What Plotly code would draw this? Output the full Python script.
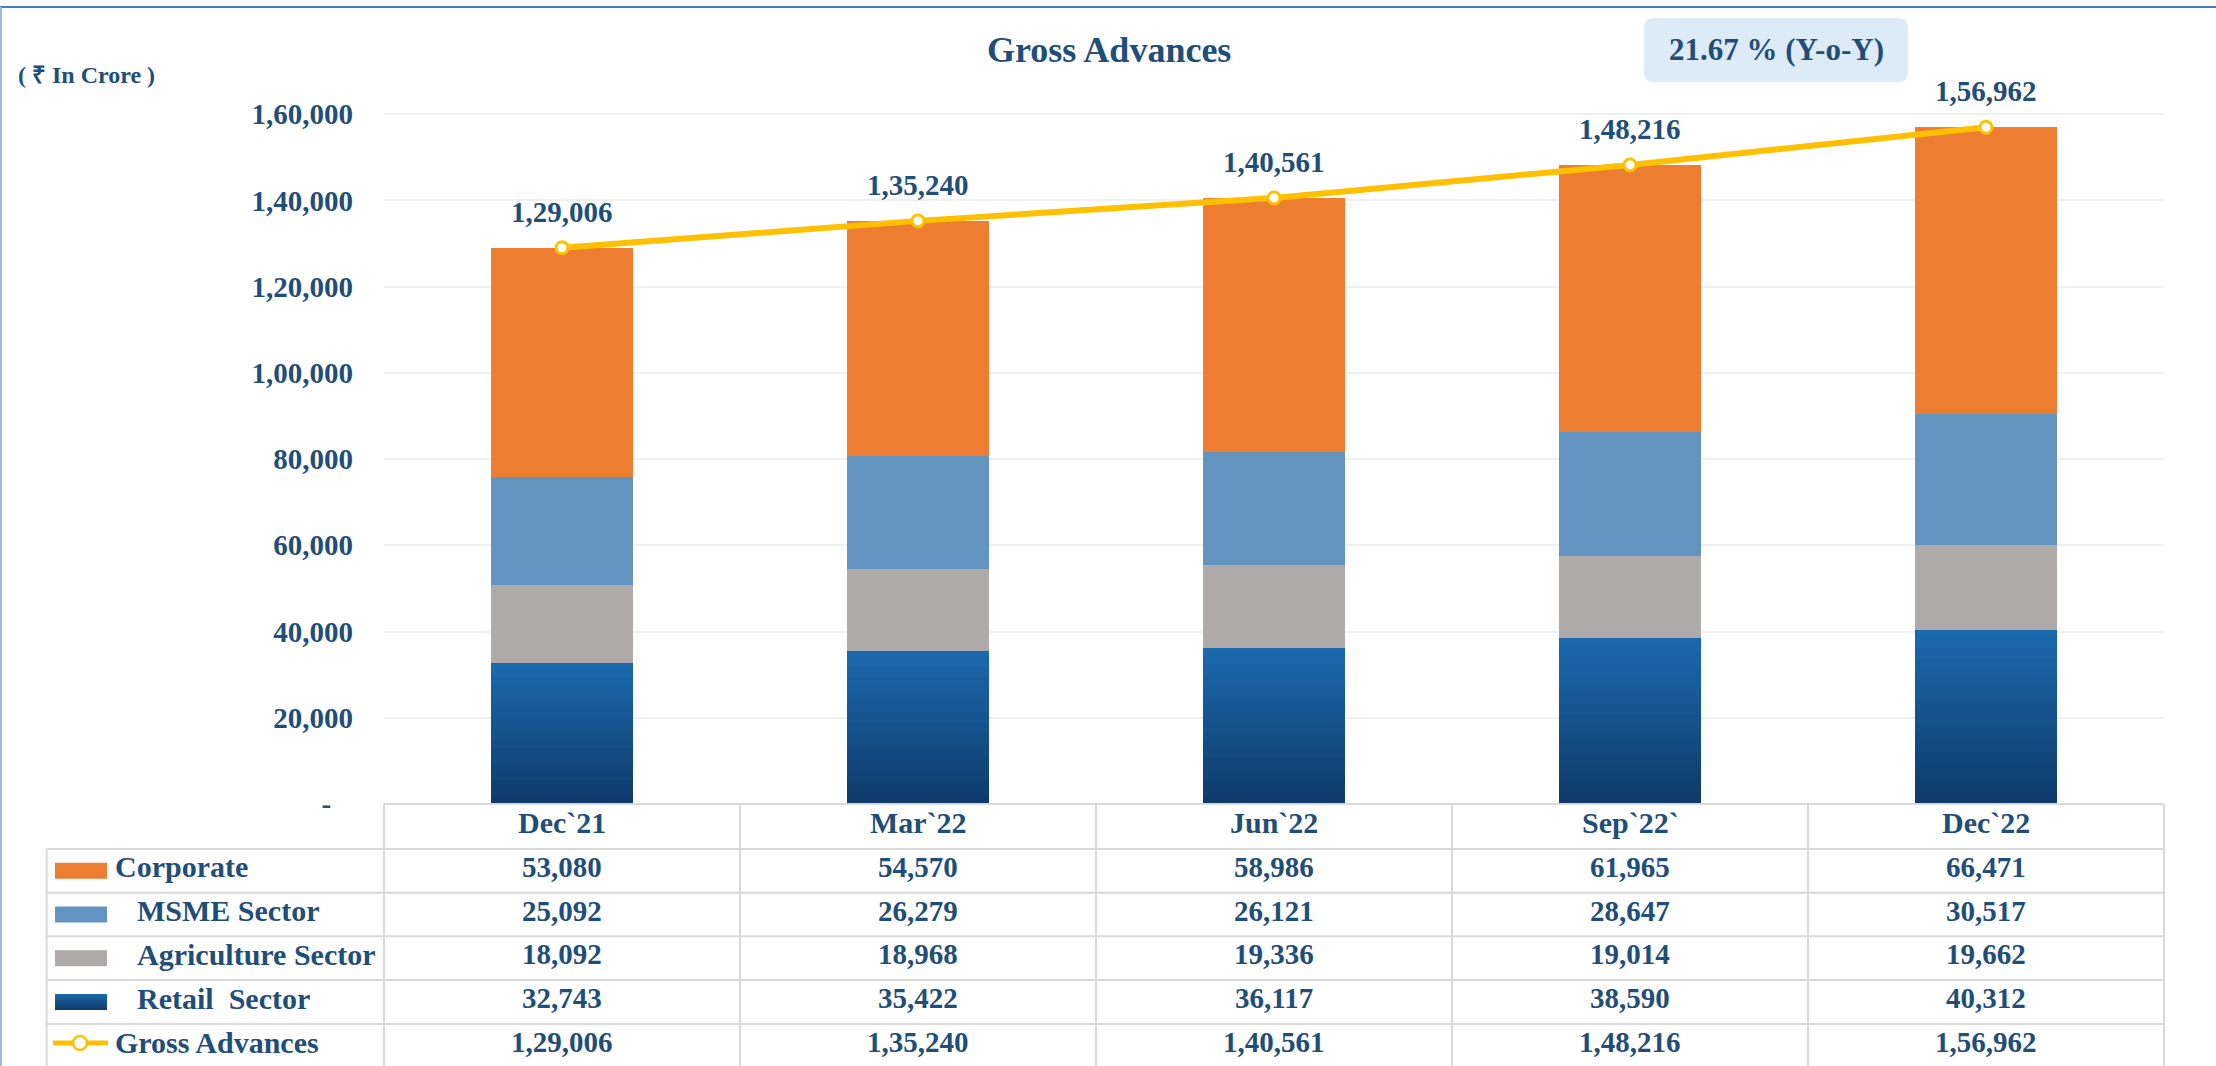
import plotly.graph_objects as go

# ---------------- data ----------------
categories = ["Dec`21", "Mar`22", "Jun`22", "Sep`22`", "Dec`22"]
corporate = [53080, 54570, 58986, 61965, 66471]
msme = [25092, 26279, 26121, 28647, 30517]
agriculture = [18092, 18968, 19336, 19014, 19662]
retail = [32743, 35422, 36117, 38590, 40312]
gross = [129006, 135240, 140561, 148216, 156962]

series_names = ["Corporate", "MSME Sector", "Agriculture Sector", "Retail  Sector", "Gross Advances"]
tick_vals = [0, 20000, 40000, 60000, 80000, 100000, 120000, 140000, 160000]
tick_text = ["-\u00a0\u00a0\u00a0", "20,000", "40,000", "60,000", "80,000", "1,00,000", "1,20,000", "1,40,000", "1,60,000"]

# ---------------- style ----------------
TXT = "#1F4E79"
FONT = "Palatino Linotype, Book Antiqua, Liberation Serif, serif"
C_CORP = "#ED7D31"
C_MSME = "#6394C0"
C_AGRI = "#AEAAAA"
C_RET_TOP = (0x1C, 0x69, 0xAE)
C_RET_BOT = (0x0E, 0x3A, 0x69)
C_LINE = "#FFC000"
GRID = "#D9D9D9"

W, H = 2216, 1066
PX0, PW = 384, 1780
PY0, PH = 804, 733
ML, MR, MT, MB = PX0, W - PX0 - PW, PY0 - PH, H - PY0


def px(x):
    return (x - PX0) / PW


def py(y):
    return (PY0 - y) / PH


def inr(n):
    s = str(int(n))
    if len(s) <= 3:
        return s
    last3, rest = s[-3:], s[:-3]
    groups = []
    while len(rest) > 2:
        groups.insert(0, rest[-2:])
        rest = rest[:-2]
    if rest:
        groups.insert(0, rest)
    return ",".join(groups) + "," + last3


def mix(a, b, t):
    return "rgb(%d,%d,%d)" % tuple(round(a[i] + (b[i] - a[i]) * t) for i in range(3))


def bfont(size):
    return dict(family=FONT, size=size, color=TXT, weight="bold")


fig = go.Figure()

# Retail bar drawn as stacked slices to render its vertical gradient
N = 30
for j in range(N):
    t = (j + 0.5) / N
    fig.add_trace(go.Bar(
        x=categories, y=[v / N for v in retail], width=0.4,
        marker=dict(color=mix(C_RET_BOT, C_RET_TOP, t), line=dict(width=0)),
        showlegend=False, hoverinfo="skip",
    ))

fig.add_trace(go.Bar(x=categories, y=agriculture, width=0.4, name=series_names[2],
                     marker=dict(color=C_AGRI, line=dict(width=0)), showlegend=False))
fig.add_trace(go.Bar(x=categories, y=msme, width=0.4, name=series_names[1],
                     marker=dict(color=C_MSME, line=dict(width=0)), showlegend=False))
fig.add_trace(go.Bar(x=categories, y=corporate, width=0.4, name=series_names[0],
                     marker=dict(color=C_CORP, line=dict(width=0)), showlegend=False))
fig.add_trace(go.Scatter(x=categories, y=gross, mode="lines+markers", name=series_names[4],
                         line=dict(color=C_LINE, width=6),
                         marker=dict(size=12, color="white", line=dict(color=C_LINE, width=3)),
                         showlegend=False))

annotations = []
shapes = []


def ann(x, y, text, size, xref="paper", yref="paper", xanchor="center", yshift=0):
    annotations.append(dict(x=x, y=y, xref=xref, yref=yref, text=text, showarrow=False,
                            xanchor=xanchor, yanchor="middle", yshift=yshift, font=bfont(size)))


# data labels above line points
for c, g in zip(categories, gross):
    ann(c, g, inr(g), 29, xref="x", yref="y", yshift=36)

# title, unit, YoY box
ann(px(1109), py(50), "Gross Advances", 36)
ann(px(16), py(75), "( \u20b9 In Crore )", 24, xanchor="left")
yoy = (gross[-1] / gross[0] - 1) * 100
x0, x1, yb, yt = px(1644), px(1908), py(82), py(18)
rx, ry = 10 / PW, 10 / PH
path = (f"M {x0+rx},{yt} L {x1-rx},{yt} Q {x1},{yt} {x1},{yt-ry} L {x1},{yb+ry} "
        f"Q {x1},{yb} {x1-rx},{yb} L {x0+rx},{yb} Q {x0},{yb} {x0},{yb+ry} "
        f"L {x0},{yt-ry} Q {x0},{yt} {x0+rx},{yt} Z")
shapes.append(dict(type="path", xref="paper", yref="paper", path=path,
                   fillcolor="#DDEBF7", line=dict(width=0), layer="below"))
ann(px(1776), py(50), f"{yoy:.2f} % (Y-o-Y)", 31)

# frame lines
shapes.append(dict(type="line", xref="paper", yref="paper", x0=px(0), x1=px(W), y0=py(7), y1=py(7),
                   line=dict(color="#4A7EBB", width=2)))
shapes.append(dict(type="line", xref="paper", yref="paper", x0=px(1), x1=px(1), y0=py(7), y1=py(H + 5),
                   line=dict(color="#9DBADD", width=2)))

# ---------------- data table ----------------
row_edges = [849, 892.7, 936.3, 980, 1024, 1068]
col_edges = [PX0 + k * PW / 5 for k in range(6)]
LEFT = 46.6
tl = dict(color=GRID, width=2)
shapes.append(dict(type="line", xref="paper", yref="paper", x0=px(col_edges[0]), x1=px(col_edges[-1]),
                   y0=py(804), y1=py(804), line=tl))
for r in row_edges:
    shapes.append(dict(type="line", xref="paper", yref="paper", x0=px(LEFT), x1=px(col_edges[-1]),
                       y0=py(r), y1=py(r), line=tl))
shapes.append(dict(type="line", xref="paper", yref="paper", x0=px(LEFT), x1=px(LEFT),
                   y0=py(849), y1=py(1068), line=tl))
for cx in col_edges:
    shapes.append(dict(type="line", xref="paper", yref="paper", x0=px(cx), x1=px(cx),
                       y0=py(804), y1=py(1068), line=tl))

# header
for c in categories:
    ann(c, py(826.5), c, 30, xref="x", yshift=4)

rows = [corporate, msme, agriculture, retail, gross]
row_centers = [(row_edges[i] + row_edges[i + 1]) / 2 for i in range(5)]
label_x = [112.5, 135, 135, 135, 112.5]
for i, (vals, yc) in enumerate(zip(rows, row_centers)):
    for c, v in zip(categories, vals):
        ann(c, py(yc), inr(v), 29, xref="x", yshift=4)
    ann(px(label_x[i]), py(yc), series_names[i], 30, xanchor="left", yshift=4)

# legend keys in table
sw_x0, sw_x1 = px(55), px(107)
for col, yc in [(C_CORP, row_centers[0]), (C_MSME, row_centers[1]), (C_AGRI, row_centers[2])]:
    shapes.append(dict(type="rect", xref="paper", yref="paper", x0=sw_x0, x1=sw_x1,
                       y0=py(yc + 8), y1=py(yc - 8), fillcolor=col, line=dict(width=0)))
K = 8
yc = row_centers[3]
for j in range(K):
    top = yc - 8 + 16 * j / K
    bot = yc - 8 + 16 * (j + 1) / K
    shapes.append(dict(type="rect", xref="paper", yref="paper", x0=sw_x0, x1=sw_x1,
                       y0=py(bot), y1=py(top), fillcolor=mix(C_RET_TOP, C_RET_BOT, (j + 0.5) / K),
                       line=dict(width=0)))
yc = row_centers[4]
shapes.append(dict(type="line", xref="paper", yref="paper", x0=px(53), x1=px(108), y0=py(yc - 3), y1=py(yc - 3),
                   line=dict(color=C_LINE, width=5)))
shapes.append(dict(type="circle", xref="paper", yref="paper", x0=px(73), x1=px(87), y0=py(yc + 4), y1=py(yc - 10),
                   fillcolor="white", line=dict(color=C_LINE, width=2.5)))

fig.update_layout(
    width=W, height=H,
    margin=dict(l=ML, r=MR, t=MT, b=MB, pad=0),
    paper_bgcolor="white", plot_bgcolor="white",
    barmode="stack", bargap=0.6,
    showlegend=False,
    font=dict(family=FONT, color=TXT),
    xaxis=dict(range=[-0.5, 4.5], showticklabels=False, showgrid=False, zeroline=False,
               showline=False, ticks=""),
    yaxis=dict(range=[0, 170000], tickvals=tick_vals, ticktext=tick_text,
               tickfont=bfont(29),
               showgrid=True, gridcolor="#F0F0F0", gridwidth=2, zeroline=False,
               showline=False, ticks="", ticklabelstandoff=30),
    annotations=annotations,
    shapes=shapes,
)

fig.write_html("out.html", config={"displayModeBar": False},
               post_script="document.body.style.margin='0';document.body.style.overflow='hidden';")
